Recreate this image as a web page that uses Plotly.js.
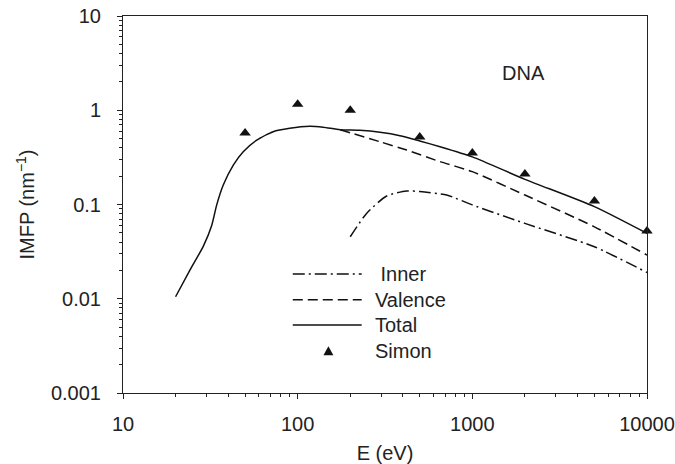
<!DOCTYPE html>
<html>
<head>
<meta charset="utf-8">
<script src="https://cdn.plot.ly/plotly-3.0.1.min.js"></script>
<style>html,body{margin:0;padding:0;background:#fff;}#chart{width:675px;height:464px;}</style>
</head>
<body>
<div id="chart"></div>
<script>
// Total IMFP
const totalE = [20, 24.2, 28.8, 32.2, 34.4, 37.5, 42.8, 48.8, 58.3, 72.4, 90, 117, 140, 175, 227, 296, 385, 500, 653, 1000, 2000, 5000, 10000];
const totalV = [0.0105, 0.0202, 0.036, 0.060, 0.099, 0.161, 0.262, 0.363, 0.483, 0.592, 0.643, 0.675, 0.66, 0.622, 0.612, 0.583, 0.537, 0.472, 0.41, 0.32, 0.185, 0.0949, 0.0494];
// Valence IMFP
const valenceE = [175, 296, 421, 653, 1000, 2000, 5000, 10000];
const valenceV = [0.622, 0.463, 0.378, 0.285, 0.223, 0.126, 0.058, 0.0291];
// Inner-shell IMFP
const innerE = [200, 248, 323, 420, 500, 713, 1000, 2000, 5000, 10000];
const innerV = [0.0455, 0.0805, 0.123, 0.139, 0.137, 0.126, 0.099, 0.063, 0.0356, 0.019];
// Simon data
const simonE = [50, 100, 200, 500, 1000, 2000, 5000, 10000];
const simonV = [0.574, 1.16, 1.0, 0.52, 0.352, 0.211, 0.109, 0.0524];

const xTickVals = [10, 100, 1000, 10000];
const xTickText = ['10', '100', '1000', '10000'];
const yTickVals = [0.001, 0.01, 0.1, 1, 10];
const yTickText = ['0.001', '0.01', '0.1', '1', '10'];

const legendNames = [' Inner', 'Valence', 'Total', 'Simon'];

const FONT = 'Liberation Sans, Arial, sans-serif';
const INNER_DASH = '12px,4px,2px,4px';
const VAL_DASH = '10px,5px';

const traces = [
  {x: innerE, y: innerV, mode: 'lines', line: {color: '#111', width: 1.5, dash: INNER_DASH, shape: 'spline', smoothing: 0.6}},
  {x: valenceE, y: valenceV, mode: 'lines', line: {color: '#111', width: 1.5, dash: VAL_DASH, shape: 'spline', smoothing: 0.6}},
  {x: totalE, y: totalV, mode: 'lines', line: {color: '#111', width: 1.5, shape: 'spline', smoothing: 0.6}},
  {x: simonE, y: simonV, mode: 'markers', cliponaxis: false, marker: {symbol: 'triangle-up', size: 10, color: '#111'}}
];

// manual legend (paper coords)
const legRows = [0.3156, 0.2475, 0.1804, 0.1122];
const lx0 = 0.324, lx1 = 0.4555;
const shapes = [
  {type: 'line', xref: 'paper', yref: 'paper', x0: lx0, x1: lx1, y0: legRows[0], y1: legRows[0], line: {color: '#111', width: 1.5, dash: INNER_DASH}},
  {type: 'line', xref: 'paper', yref: 'paper', x0: lx0, x1: lx1, y0: legRows[1], y1: legRows[1], line: {color: '#111', width: 1.5, dash: VAL_DASH}},
  {type: 'line', xref: 'paper', yref: 'paper', x0: lx0, x1: lx1, y0: legRows[2], y1: legRows[2], line: {color: '#111', width: 1.5}}
];
const tx = 0.392, ty = legRows[3];
shapes.push({type: 'path', xref: 'paper', yref: 'paper', fillcolor: '#111', line: {width: 0},
  path: `M ${tx-0.0095},${ty-0.012} L ${tx+0.0095},${ty-0.012} L ${tx},${ty+0.012} Z`});

const annotations = legendNames.map((n, i) => ({
  xref: 'paper', yref: 'paper', x: 0.4765, y: legRows[i], xanchor: 'left', yanchor: 'middle',
  text: n, showarrow: false, font: {family: FONT, size: 20, color: '#222'}
}));
annotations.push({xref: 'paper', yref: 'paper', x: 0.7647, y: 0.8496, xanchor: 'center', yanchor: 'middle',
  text: 'DNA', showarrow: false, font: {family: FONT, size: 20, color: '#222'}});

const axisCommon = {
  type: 'log', showgrid: false, zeroline: false, showline: true, linecolor: '#222', linewidth: 1,
  mirror: true, ticks: 'outside', ticklen: 5, tickwidth: 1, tickcolor: '#222',
  tickfont: {family: FONT, size: 20, color: '#222'},
  minor: {ticks: 'outside', ticklen: 3, tickwidth: 1, tickcolor: '#222', dtick: 'D1', showgrid: false}
};

const layout = {
  width: 675, height: 464,
  margin: {l: 123, r: 28, t: 16, b: 71},
  paper_bgcolor: '#fff', plot_bgcolor: '#fff',
  showlegend: false,
  font: {family: FONT, size: 20, color: '#222'},
  xaxis: Object.assign({}, axisCommon, {
    range: [1, 4], tickvals: xTickVals, ticktext: xTickText, ticklabelstandoff: 8,
    title: {text: 'E (eV)', font: {family: FONT, size: 20, color: '#222'}, standoff: 12}
  }),
  yaxis: Object.assign({}, axisCommon, {
    range: [-3, 1], tickvals: yTickVals, ticktext: yTickText, ticklabelstandoff: 12,
    title: {text: 'IMFP (nm<sup>−1</sup>)', font: {family: FONT, size: 20, color: '#222'}, standoff: 10}
  }),
  shapes: shapes,
  annotations: annotations
};

Plotly.newPlot('chart', traces, layout, {staticPlot: true, displayModeBar: false});
</script>
</body>
</html>
